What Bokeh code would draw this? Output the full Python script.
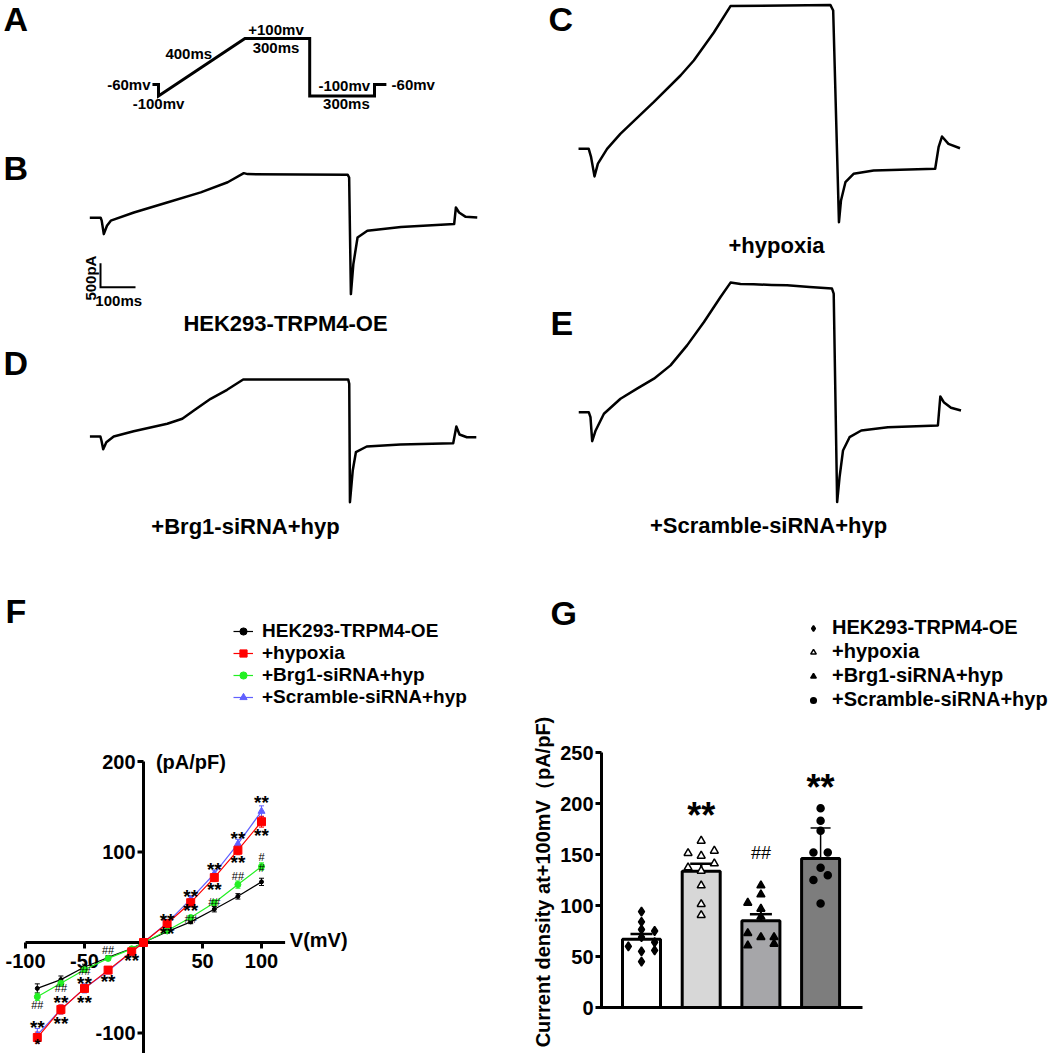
import math
from bokeh.plotting import figure
from bokeh.layouts import row, column
from bokeh.models import (Range1d, Legend, LegendItem, Whisker, TeeHead, ColumnDataSource)
from bokeh.core.properties import value
from bokeh.embed import file_html
from bokeh.resources import INLINE

FONT = "Liberation Sans"

# ---------------- data ----------------
# A: voltage protocol (ms, mV)
protocol_t = [-28, 0, 0, 400, 700, 700, 1000, 1000, 1055]
protocol_v = [-60, -60, -100, 100, 100, -100, -100, -60, -60]
protocol_text = ["-60mv", "-100mv", "400ms", "+100mv", "300ms", "-100mv", "300ms", "-60mv"]
protocol_text_t = [-37, 0, 140, 544, 544, 860, 870, 1079]
protocol_text_v = [-60, -126, 48, 131, 69, -63, -126, -60]
protocol_text_align = ["right", "center", "center", "center", "center", "center", "center", "left"]

# B-E: current traces (ms, pA)
trace_b_t = [-40, -9, -6, 0, 9, 20, 86, 181, 277, 354, 400, 411, 697, 701, 706, 713, 725, 753, 849, 1001, 1006, 1015, 1034, 1067]
trace_b_i = [0, 0, -60, -340, -167, -60, 110, 320, 530, 740, 930, 910, 895, 840, -1590, -965, -410, -270, -190, -130, 215, 110, 20, 6]

trace_c_t = [-47, -17, -10, 0, 10, 37, 76, 174, 253, 292, 351, 400, 694, 702, 719, 725, 738, 762, 821, 1002, 1012, 1022, 1041, 1075]
trace_c_i = [0, 0, -175, -575, -310, 0, 312, 971, 1527, 1840, 2423, 2973, 2994, 2881, -1529, -1077, -696, -521, -452, -417, 33, 256, 104, 12]

trace_d_t = [-38, -8, -5, 0, 9, 30, 87, 183, 226, 259, 307, 354, 400, 700, 703, 705, 713, 722, 753, 849, 1000, 1009, 1018, 1039, 1066]
trace_d_i = [0, 0, -83, -265, -119, 0, 110, 265, 369, 542, 785, 973, 1188, 1188, 1098, -1369, -708, -327, -208, -167, -140, 208, 42, -15, -15]

trace_e_t = [-39, -10, -5, 0, 10, 34, 82, 130, 179, 227, 275, 324, 372, 401, 430, 468, 520, 565, 630, 695, 700, 710, 717, 727, 746, 780, 857, 1002, 1009, 1019, 1040, 1069]
trace_e_i = [0, 0, -104, -604, -381, -33, 281, 490, 698, 975, 1392, 1879, 2400, 2700, 2670, 2665, 2650, 2644, 2610, 2575, 2471, -1873, -1352, -798, -521, -381, -313, -277, 327, 208, 92, 35]

scalebar_t = [-9.4, -9.4, 90.6]
scalebar_i = [-946, -1446, -1446]

# F: I-V curves
iv_v = [-90, -70, -50, -30, -10, 0, 20, 40, 60, 80, 100]
iv_hek = [-50.7, -41, -27, -16.5, -6.6, 0, 11.8, 22.8, 36.8, 51, 67]
iv_hyp = [-105, -74, -50.7, -30.5, -10.3, 0, 21, 44, 71.7, 102, 133.5]
iv_brg = [-60, -45, -30, -17.6, -7, 0, 13, 27.6, 44, 64, 84]
iv_scr = [-102, -74, -50.7, -31.6, -10.3, 0, 21.7, 48, 76, 109, 145]
err_hek = [5, 4, 3, 2, 1, 0, 1, 2, 3, 3, 4]
err_hyp = [6, 5, 4, 3, 2, 0, 2, 3, 4, 5, 6]
err_brg = [4, 3, 3, 2, 1, 0, 1, 2, 3, 4, 4]
err_scr = [7, 5, 5, 3, 2, 0, 2, 3, 4, 5, 6]
iv_xticks = [-100, -50, 50, 100]
iv_yticks = [-100, 100, 200]
iv_xaxis_extent = [-100, 120]
iv_yaxis_extent = [-125, 200]
star_v = [100, 100, 80, 80, 60, 60, 40, 40, 20, 20, -10, -30, -50, -50, -70, -70, -90]
star_i = [158, 122, 118, 91.5, 84, 62, 54, 39, 28, 13.6, -16, -40, -42, -63, -63, -86, -90]
star_txt = ["**"] * 17
single_star_v = [-90]
single_star_i = [-110]
hash_v = [100, 100, 80, 60, 40, -30, -50, -70, -90]
hash_i = [94, 82, 74, 45, 26.5, -8.5, -31.6, -50, -69]
hash_txt = ["#", "#", "##", "##", "##", "##", "##", "##", "##"]

# G: current density at +100 mV
groups = ["HEK293-TRPM4-OE", "+hypoxia", "+Brg1-siRNA+hyp", "+Scramble-siRNA+hyp"]
bar_mean = [67, 133.5, 85, 146]
bar_lower = [63, 126, 78.5, 116.5]
bar_upper = [72, 141, 91.5, 176]
bar_fill = ["#ffffff", "#d7d7d7", "#a6a6a9", "#7d7d7d"]
pts_hek = [94, 84, 76.5, 75, 69, 64, 60, 56, 55, 45]
off_hek = [0, 0, 0, 0.22, 0, 0.22, -0.22, 0.22, 0, 0]
pts_hyp = [163.4, 153.6, 151.3, 148.7, 141.2, 137.3, 134, 119.6, 101.3, 90.5]
off_hyp = [0, 0.22, -0.22, 0, 0.22, -0.22, 0, 0, 0, 0]
pts_brg = [119.6, 110.8, 102.6, 96.7, 89, 72.9, 69, 69, 60.8, 62.4]
off_brg = [0, 0, -0.22, 0, 0, -0.22, 0, 0.22, -0.22, 0.22]
pts_scr = [195.4, 183, 173.2, 152, 152, 137, 129.7, 125, 102]
off_scr = [0, 0, 0, -0.12, 0.12, 0, 0.12, -0.12, 0]
g_yticks = [0, 50, 100, 150, 200, 250]
g_star_group = [2, 4]
g_star_val = [194, 221.6]
g_hash_group = [3]
g_hash_val = [151]


# ---------------- helpers ----------------
def make_fig(box, x0, xs, y0, ys):
    """box = (left, top, w, h) in page px; data (0,0) sits at page px (x0, y0)."""
    left, top, w, h = box
    p = figure(width=w, height=h,
               x_range=Range1d((left - x0) / xs, (left + w - x0) / xs),
               y_range=Range1d((y0 - top - h) / ys, (y0 - top) / ys),
               output_backend="svg", toolbar_location=None, min_border=0,
               x_axis_type=None, y_axis_type=None)
    p.outline_line_color = None

    def conv(px, py):
        return (px - x0) / xs, (y0 - py) / ys
    return p, conv


def ptext(p, xs, ys, texts, size, align="center", style="bold", voff=0.0, angle=0):
    p.text(x=xs, y=ys, text=texts, text_font=value(FONT), text_font_size=f"{size}px",
           text_font_style=style, text_align=align, text_baseline="alphabetic",
           y_offset=voff * size, text_color="black", angle=angle)


def put_label(p, conv, px, py, text, size, align="left"):
    x, y = conv(px, py)
    ptext(p, [x], [y], [text], size, align=align)


LW = 2.5
LETTER = 34
CAP = 22

# ---------------- A ----------------
pA, cA = make_fig((0, 0, 520, 130), 158, 0.216, 66.75, 0.2875)
pA.line(protocol_t, protocol_v, line_width=3, color="black", line_join="miter")
for al in ("left", "center", "right"):
    idx = [k for k, a in enumerate(protocol_text_align) if a == al]
    ptext(pA, [protocol_text_t[k] for k in idx], [protocol_text_v[k] for k in idx],
          [protocol_text[k] for k in idx], 15, align=al)
put_label(pA, cA, 3, 18, "A", LETTER)

# ---------------- B ----------------
pB, cB = make_fig((0, 130, 520, 210), 103.3, 0.35, 217.3, 0.048)
pB.line(trace_b_t, trace_b_i, line_width=LW, color="black", line_join="round")
pB.line(scalebar_t, scalebar_i, line_width=2, color="black", line_join="miter")
pB.text(x=[scalebar_t[0] - 29], y=[(scalebar_i[0] + scalebar_i[1]) / 2 - 60], text=["500pA"],
        text_font=value(FONT), text_font_size="15px", text_font_style="bold",
        text_align="center", text_baseline="middle", angle=math.pi / 2)
ptext(pB, [scalebar_t[0] + 52], [scalebar_i[1] - 280], ["100ms"], 15)
put_label(pB, cB, 3, 167, "B", LETTER)
put_label(pB, cB, 285, 323, "HEK293-TRPM4-OE", CAP, align="center")

# ---------------- D ----------------
pD, cD = make_fig((0, 340, 520, 205), 102.7, 0.35, 436, 0.048)
pD.line(trace_d_t, trace_d_i, line_width=LW, color="black", line_join="round")
put_label(pD, cD, 3, 362, "D", LETTER)
put_label(pD, cD, 245, 526, "+Brg1-siRNA+hyp", CAP, align="center")

# ---------------- C ----------------
pC, cC = make_fig((520, 0, 530, 265), 594, 0.34, 148.3, 0.048)
pC.line(trace_c_t, trace_c_i, line_width=LW, color="black", line_join="round")
put_label(pC, cC, 548, 18, "C", LETTER)
put_label(pC, cC, 776, 245, "+hypoxia", CAP, align="center")

# ---------------- E ----------------
pE, cE = make_fig((520, 265, 530, 280), 591.7, 0.345, 411.7, 0.048)
pE.line(trace_e_t, trace_e_i, line_width=LW, color="black", line_join="round")
put_label(pE, cE, 550, 322, "E", LETTER)
put_label(pE, cE, 768, 525, "+Scramble-siRNA+hyp", CAP, align="center")

# ---------------- F ----------------
FX, FY = 1.18, 0.905
pF, cF = make_fig((0, 545, 520, 508), 143, FX, 942, FY)
pF.segment(x0=[iv_xaxis_extent[0]], y0=[0], x1=[iv_xaxis_extent[1]], y1=[0], line_width=3, color="black")
pF.segment(x0=[0], y0=[iv_yaxis_extent[0]], x1=[0], y1=[iv_yaxis_extent[1]], line_width=3, color="black")
pF.segment(x0=iv_xticks, y0=[0] * len(iv_xticks), x1=iv_xticks, y1=[-6 / FY] * len(iv_xticks),
           line_width=3, color="black")
pF.segment(x0=[0] * len(iv_yticks), y0=iv_yticks, x1=[-6 / FX] * len(iv_yticks), y1=iv_yticks,
           line_width=3, color="black")
ptext(pF, iv_xticks, [-20.4] * len(iv_xticks), [str(t) for t in iv_xticks], 20)
ptext(pF, [-8 / FX] * len(iv_yticks), iv_yticks, [str(t) for t in iv_yticks], 20, align="right")
ptext(pF, [124], [3], ["V(mV)"], 20, align="left")
ptext(pF, [10.5], [200], ["(pA/pF)"], 20, align="left")

series = [
    ("HEK293-TRPM4-OE", iv_hek, err_hek, "black", "circle", 4),
    ("+hypoxia", iv_hyp, err_hyp, "#ff0000", "square", 8),
    ("+Brg1-siRNA+hyp", iv_brg, err_brg, "#22f022", "circle", 6),
    ("+Scramble-siRNA+hyp", iv_scr, err_scr, "#6060ff", "triangle", 7),
]
legend_items = {}
for name, ys, es, col, mk, sz in [series[0], series[2], series[3], series[1]]:
    src = ColumnDataSource(dict(x=iv_v, y=ys, lo=[a - b for a, b in zip(ys, es)],
                                hi=[a + b for a, b in zip(ys, es)]))
    lr = pF.line("x", "y", source=src, color=col, line_width=1.2)
    pF.add_layout(Whisker(base="x", upper="hi", lower="lo", source=src, dimension="height",
                          line_color=col, line_width=1,
                          upper_head=TeeHead(size=5, line_color=col, line_width=1),
                          lower_head=TeeHead(size=5, line_color=col, line_width=1)))
    sr = pF.scatter("x", "y", source=src, marker=mk, size=sz, fill_color=col, line_color=col)
    legend_items[name] = [lr, sr]
ptext(pF, star_v, star_i, star_txt, 19, voff=0.17)
ptext(pF, single_star_v, single_star_i, ["*"], 15, voff=0.1)
ptext(pF, hash_v, hash_i, hash_txt, 11, style="normal", voff=0.0)
legF = Legend(items=[LegendItem(label=s[0], renderers=legend_items[s[0]]) for s in series],
              location=(233, 345), label_text_font=FONT, label_text_font_size="19px",
              label_text_font_style="bold", label_text_color="black",
              glyph_width=20, glyph_height=18,
              label_height=18, label_standoff=9, spacing=0, padding=0, margin=0,
              border_line_color=None, background_fill_alpha=0)
pF.add_layout(legF)
put_label(pF, cF, 5, 610, "F", LETTER)

# ---------------- G ----------------
GU, GYS = 59.7, 1.02
pG, cG = make_fig((520, 545, 530, 508), 641 - GU, GU, 1007, GYS)
gx = [i + 1 for i in range(len(groups))]
g_axis_x = cG(601, 0)[0]
g_axis_end = cG(862, 0)[0]
pG.vbar(x=gx, width=38 / GU, top=bar_mean, bottom=0, fill_color=bar_fill,
        line_color="black", line_width=3)
for sel, lw, cap in ((slice(0, 3), 2.5, 22), (slice(3, 4), 1.5, 20)):
    s = ColumnDataSource(dict(x=gx[sel], lo=bar_lower[sel], hi=bar_upper[sel]))
    pG.add_layout(Whisker(base="x", upper="hi", lower="lo", source=s, dimension="height",
                          line_color="black", line_width=lw,
                          upper_head=TeeHead(size=cap, line_color="black", line_width=lw),
                          lower_head=TeeHead(size=cap, line_color="black", line_width=lw)))

g_pts = [(pts_hek, off_hek, "diamond", 9, "black"),
         (pts_hyp, off_hyp, "triangle", 8, "white"),
         (pts_brg, off_brg, "triangle", 8, "black"),
         (pts_scr, off_scr, "circle", 7, "black")]
g_rends = []
for k, (vals, offs, mk, sz, fc) in enumerate(g_pts):
    r = pG.scatter(x=[gx[k] + o for o in offs], y=vals, marker=mk, size=sz,
                   fill_color=fc, line_color="black", line_width=1.5)
    g_rends.append(r)

# axes
pG.segment(x0=[g_axis_x], y0=[-1.5], x1=[g_axis_x], y1=[g_yticks[-1]], line_width=3, color="black")
pG.segment(x0=[g_axis_x], y0=[0], x1=[g_axis_end], y1=[0], line_width=3, color="black")
pG.segment(x0=[g_axis_x] * len(g_yticks), y0=g_yticks, x1=[g_axis_x - 6 / GU] * len(g_yticks),
           y1=g_yticks, line_width=3, color="black")
ptext(pG, [g_axis_x - 8 / GU] * len(g_yticks), g_yticks, [str(t) for t in g_yticks], 20, align="right")
lab_x, _ = cG(542, 0)
pG.text(x=[lab_x], y=[123], text=["Current density at+100mV（pA/pF)"], text_font=value(FONT),
        text_font_size="20px", text_font_style="bold", text_align="center",
        text_baseline="middle", angle=math.pi / 2, text_color="black")

ptext(pG, [gx[i - 1] for i in g_star_group], g_star_val, ["**"] * len(g_star_group), 36, voff=0.17)
ptext(pG, [gx[i - 1] for i in g_hash_group], g_hash_val, ["##"] * len(g_hash_group), 18,
      style="normal", voff=0.0)

legG = Legend(items=[LegendItem(label=groups[k], renderers=[g_rends[k]]) for k in range(4)],
              location=(286, 342), label_text_font=FONT, label_text_font_size="20px",
              label_text_font_style="bold", label_text_color="black",
              glyph_width=14, glyph_height=20,
              label_height=20, label_standoff=12, spacing=1, padding=0, margin=0,
              border_line_color=None, background_fill_alpha=0)
pG.add_layout(legG)
put_label(pG, cG, 550, 612, "G", LETTER)

layout = column(row(column(pA, pB, pD), column(pC, pE)), row(pF, pG))
open("out.html", "w").write(file_html(layout, INLINE))
